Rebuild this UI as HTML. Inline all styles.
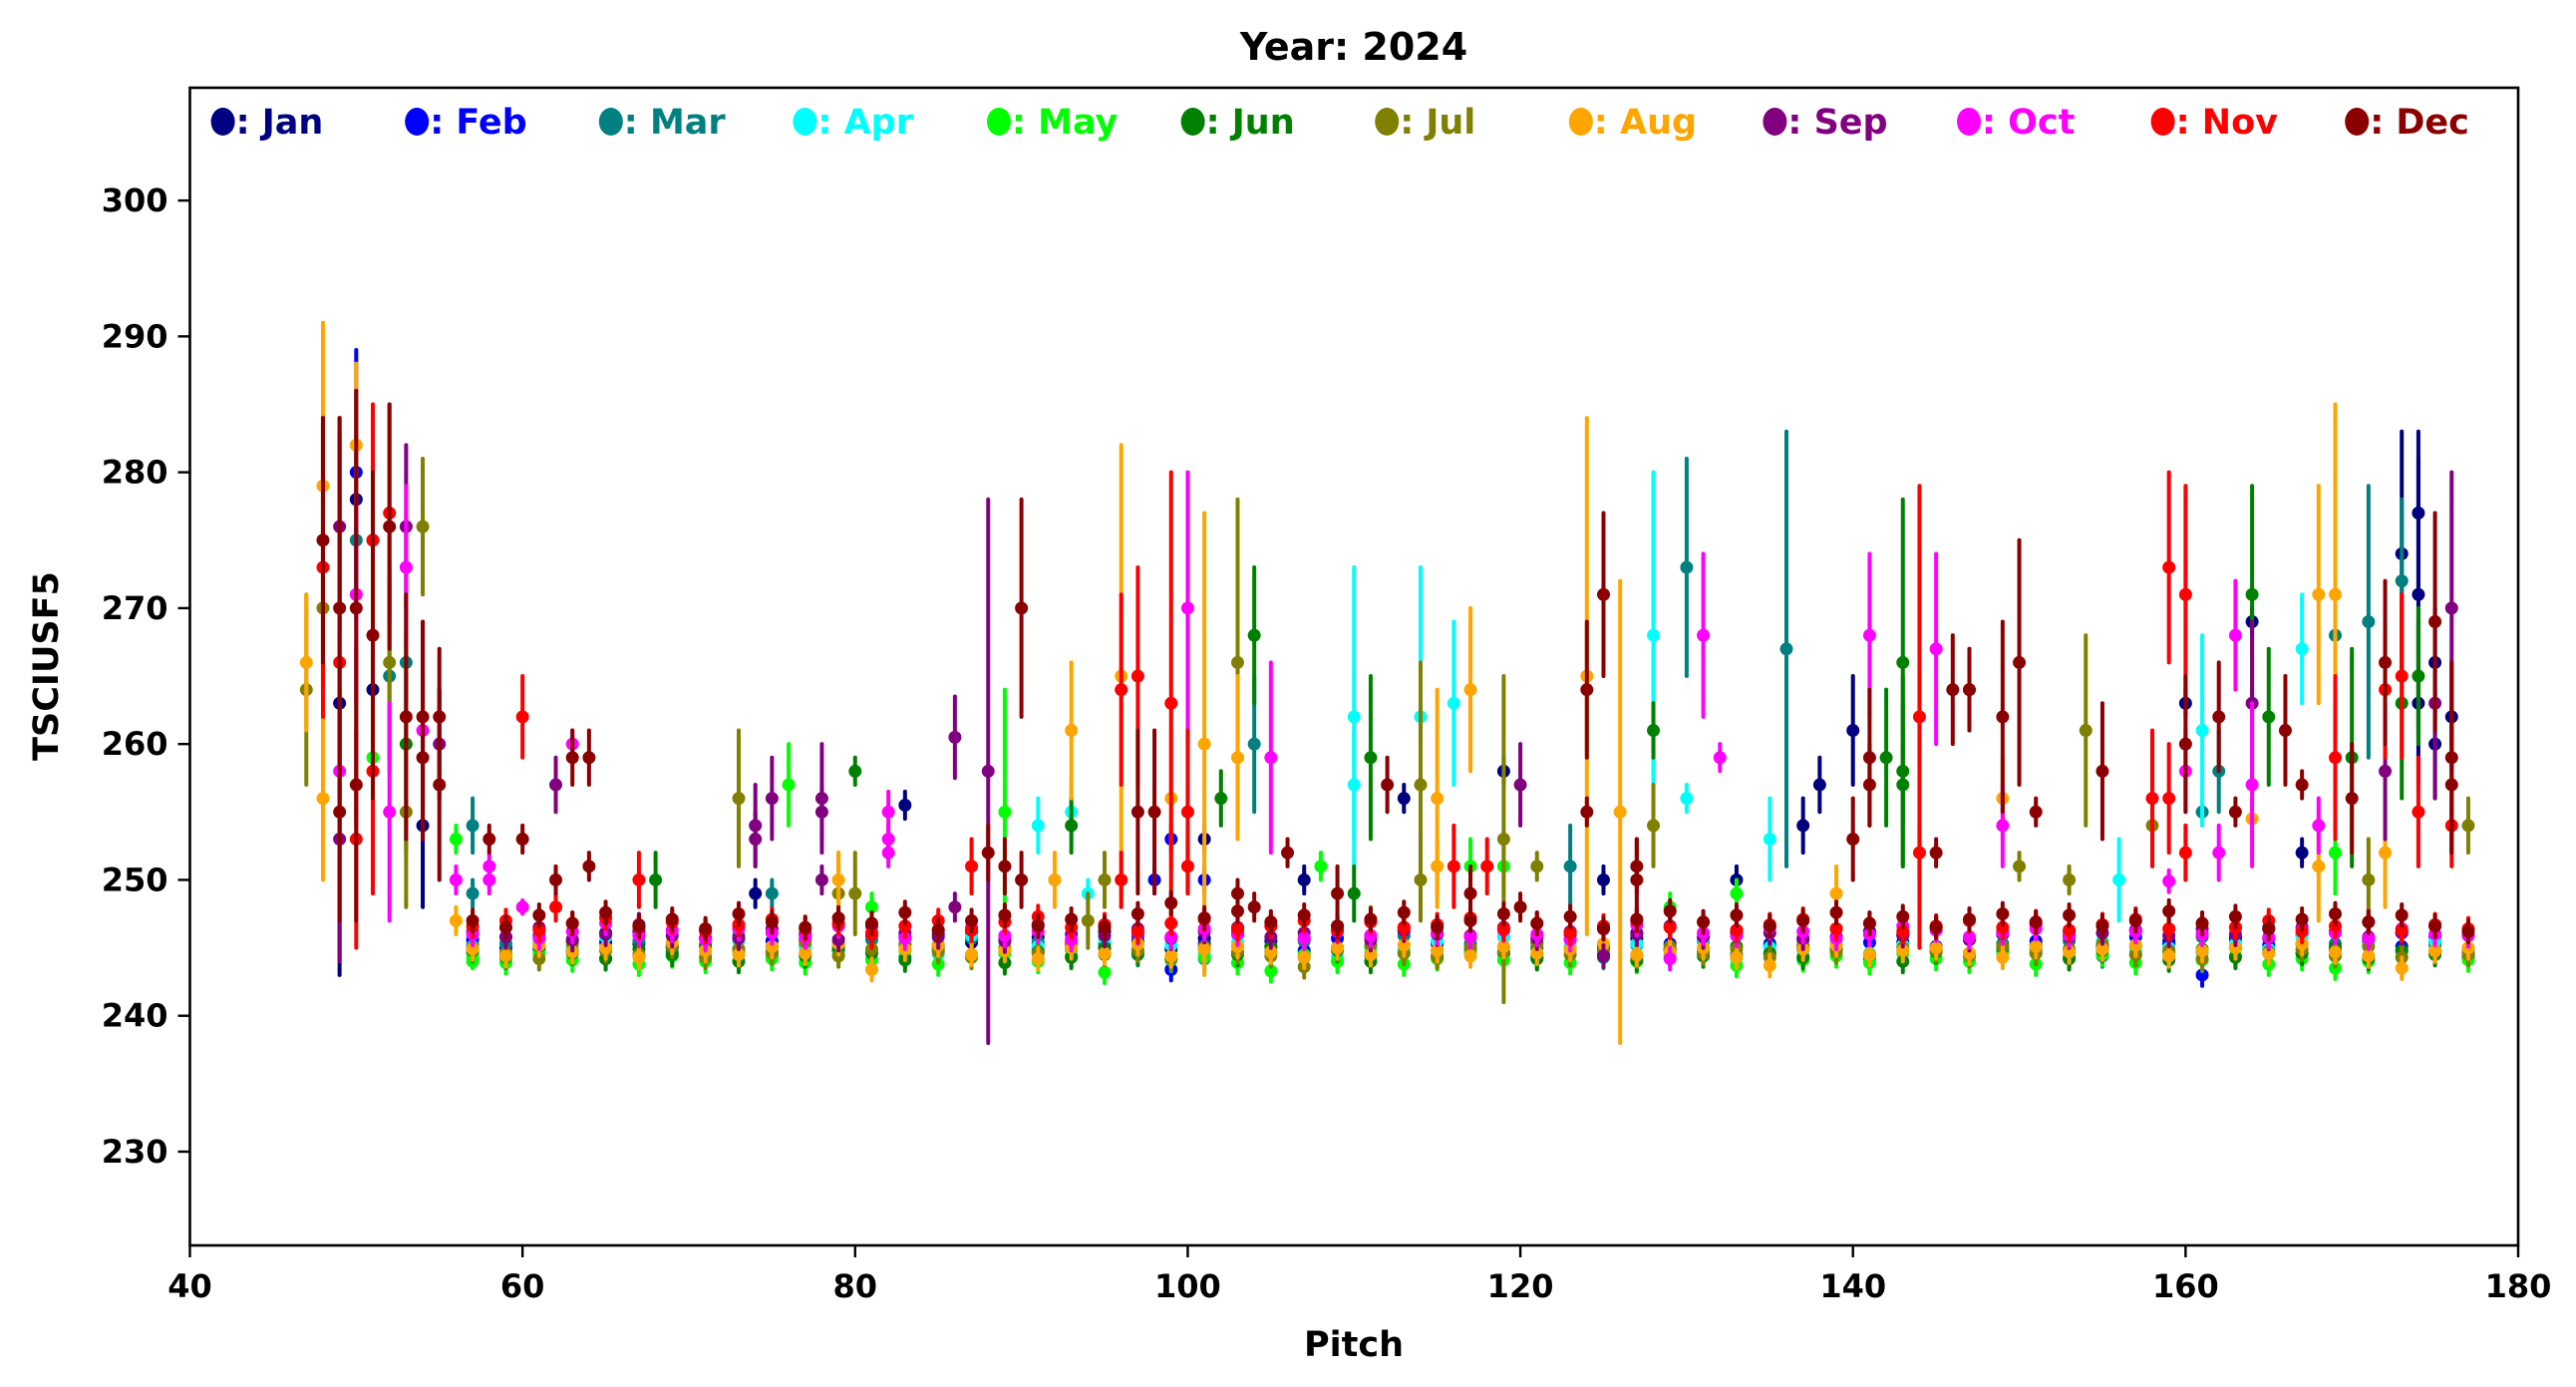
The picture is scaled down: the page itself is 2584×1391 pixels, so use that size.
<!DOCTYPE html>
<html><head><meta charset="utf-8"><title>Year: 2024</title>
<style>
html,body{margin:0;padding:0;background:#fff;}
svg{display:block;font-family:"DejaVu Sans","Liberation Sans",sans-serif;font-weight:bold;}
</style></head>
<body>
<svg id="chart" width="2584" height="1391" viewBox="0 0 2584 1391" xmlns="http://www.w3.org/2000/svg">
<rect x="0" y="0" width="2584" height="1391" fill="#fff"/>
<text x="1358" y="60" font-size="38" text-anchor="middle">Year: 2024</text>
<text x="1358" y="1360" font-size="35" text-anchor="middle">Pitch</text>
<text x="0" y="0" font-size="35" text-anchor="middle" transform="translate(58,668) rotate(-90)">TSCIUSF5</text>
<g id="plot"></g>
<g id="axes"></g>
<g id="legend"></g>
</svg>
<script>
const months = ["Jan","Feb","Mar","Apr","May","Jun","Jul","Aug","Sep","Oct","Nov","Dec"];
const monthColors = ["#000080","#0000ff","#008080","#00ffff","#00ff00","#008000","#808000","#ffa500","#800080","#ff00ff","#ff0000","#8b0000"];
const xTicks = [40,60,80,100,120,140,160,180];
const yTicks = [230,240,250,260,270,280,290,300];

// outlier points
const outPitch = [47,47,48,48,48,48,48,48,49,49,49,49,49,49,49,50,50,50,50,50,50,50,50,51,51,51,51,51,51,52,52,52,52,52,53,53,53,53,53,53,54,54,54,54,54,55,55,55,56,56,56,57,57,57,58,58,58,60,60,60,62,62,62,63,63,64,64,67,68,73,74,74,74,75,75,76,78,78,78,79,79,80,80,81,81,82,82,82,83,86,86,87,88,88,89,89,90,90,91,92,92,93,93,93,94,94,95,96,96,96,97,97,98,98,99,99,99,100,100,100,100,101,101,101,102,103,103,103,104,104,104,105,106,107,108,109,110,110,110,111,111,112,113,114,114,114,115,115,116,116,117,117,117,118,119,119,119,120,120,121,123,124,124,124,125,125,126,127,127,128,128,128,129,130,130,131,132,133,133,135,136,137,138,139,140,140,141,141,141,142,143,143,143,144,144,145,145,146,147,147,149,149,149,150,150,151,153,154,155,156,158,158,159,159,160,160,160,160,160,161,161,162,162,162,163,163,164,164,164,164,164,165,166,167,167,167,168,168,168,169,169,169,169,169,170,170,171,171,172,172,172,172,173,173,173,173,174,174,174,174,174,175,175,175,175,176,176,176,176,176,177];
const outMonth = [6,7,7,3,11,10,7,6,0,8,11,10,11,8,9,1,0,7,2,11,9,11,10,10,2,0,11,10,4,10,11,6,2,9,8,9,2,11,6,5,6,11,0,9,11,11,11,8,4,9,7,2,2,4,11,9,9,10,11,9,8,10,11,9,11,11,11,10,5,6,8,8,0,8,2,4,8,8,8,7,6,5,6,4,10,9,9,9,0,8,8,10,8,11,11,4,11,11,3,3,7,7,5,3,3,6,6,7,10,10,10,11,11,1,10,7,1,9,10,10,3,7,1,0,5,6,7,11,2,5,11,9,11,0,4,11,3,3,5,5,6,11,0,3,6,6,7,7,3,10,7,4,11,10,0,6,4,8,11,6,2,7,11,11,11,0,7,11,11,3,5,6,4,2,3,9,9,0,4,3,2,0,0,7,0,11,9,11,11,5,5,5,5,10,10,9,11,11,10,11,11,7,9,11,6,11,6,6,11,3,10,6,10,10,10,0,11,9,10,3,2,2,11,9,9,11,0,5,8,7,9,5,11,3,11,0,7,9,7,7,2,10,3,4,5,11,2,6,11,10,8,7,0,2,10,5,0,0,5,0,10,8,11,0,0,8,0,11,11,10,6];
const outValue = [264,266,279,275,275,273,256,270,263,276,270,266,255,253,258,280,278,282,275,270,271,257,253,275,275,264,268,258,259,277,276,266,265,255,276,273,266,262,255,260,276,262,254,261,259,262,257,260,253,250,247,254,249,244,253,251,250,262,253,248,257,248,250,260,259,259,251,250,250,256,254,253,249,256,249,257,256,255,250,250,249,258,249,248,246,255,253,252,255.5,260.5,248,251,258,252,251,255,270,250,254,250,250,261,254,255,249,247,250,265,264,250,265,255,255,250,263,256,253,270,255,251,255,260,250,253,256,266,259,249,260,268,248,259,252,250,251,249,262,257,249,259,247,257,256,262,257,250,256,251,263,251,264,251,249,251,258,253,251,257,248,251,251,265,264,255,271,250,255,251,250,268,261,254,248,273,256,268,259,250,249,253,267,254,257,249,261,253,268,259,257,259,266,258,257,262,252,267,252,264,264,264,262,256,254,266,251,255,250,261,258,250,256,254,273,256,271,263,260,258,252,261,255,258,262,252,268,255,269,271,263,254.5,257,262,261,267,257,252,271,254,251,271,268,259,252,252,259,256,269,250,266,264,258,252,274,272,265,263,277,271,265,263,255,263,269,266,260,270,262,257,259,254,254];
const outErr = [7,5,12,5,9,11,6,6,20,8,14,12,8,9,6,9,8,6,6,16,8,10,8,10,8,12,12,9,6,8,9,7,7,8,6,6,10,9,7,8,5,7,6,8,6,5,7,4,1,1,1,2,1,0.5,1,1,1,3,1,0.5,2,1,1,1,2,2,1,2,2,5,3,2,1,3,1,3,4,2,1,2,3,1,3,1,1,1.5,1,1,1,3,1,2,20,2,2,9,8,2,2,1,2,5,2,2,1,2,2,17,7,2,8,6,6,1,17,5,1,10,6,2,3,17,1,1,2,12,6,1,5,5,1,7,1,1,1,2,11,4,2,6,1,2,1,11,9,3,8,2,6,3,6,2,2,2,1,12,2,3,1,1,3,19,5,1,6,1,17,2,3,12,2,3,1,8,1,6,1,1,1,3,16,2,2,2,4,3,6,5,3,5,12,7,6,17,2,7,1,4,3,3,7,3,3,9,1,1,1,7,5,3,5,3,7,4,8,1,5,3,2,7,1,3,4,2,4,1,1,8,6,3,6,5,4,4,1,1,8,2,4,14,3,6,3,3,8,4,10,3,6,5,5,4,9,6,6,7,6,10,5,6,4,7,8,4,4,10,4,5,7,3,2];

// baseline cluster: pitches 57..177 step 2, one value per month
const basePitch = [57,59,61,63,65,67,69,71,73,75,77,79,81,83,85,87,89,91,93,95,97,99,101,103,105,107,109,111,113,115,117,119,121,123,125,127,129,131,133,135,137,139,141,143,145,147,149,151,153,155,157,159,161,163,165,167,169,171,173,175,177];
const baseJan = [245.2,245.8,244.9,245.5,246.1,245.3,245.0,245.7,246.4,245.1,245.6,244.8,245.9,245.3,246.0,245.4,244.7,245.8,245.2,246.2,245.5,244.9,245.7,246.3,245.1,245.6,245.0,245.9,246.5,245.3,245.8,244.6,245.4,246.0,245.2,245.7,244.9,245.5,246.1,245.3,245.0,245.8,246.2,245.4,244.8,245.6,246.0,245.2,245.9,245.1,246.3,245.5,244.7,245.8,246.4,245.3,245.0,245.7,246.1,245.4,244.3];
const baseFeb = [245.6,245.0,245.9,244.8,245.4,246.2,245.1,245.7,244.9,245.5,246.0,245.3,244.7,245.8,245.2,246.1,245.6,244.9,245.4,245.0,245.9,243.4,245.3,246.0,245.5,244.8,245.7,245.1,246.2,245.4,244.9,245.8,244.3,245.6,245.0,246.1,245.3,244.7,245.9,245.2,245.6,244.9,245.4,246.0,245.1,245.7,244.8,245.5,246.2,245.0,245.8,245.3,243.0,245.6,245.2,246.0,244.9,245.5,245.1,245.8,244.6];
const baseMar = [244.6,245.3,245.8,244.9,244.2,245.5,244.7,245.1,245.9,244.5,245.2,244.8,245.6,244.3,245.0,245.7,244.6,245.4,244.9,245.3,244.5,245.8,244.2,245.1,244.7,245.5,245.0,244.4,245.9,244.8,245.3,244.6,245.0,245.6,244.3,245.2,244.9,245.7,244.5,245.1,244.8,245.4,244.2,245.9,245.0,244.6,245.3,244.9,245.5,244.4,245.1,244.7,245.8,245.0,246.5,244.6,245.3,245.7,244.8,245.2,244.5];
const baseApr = [245.1,244.6,245.4,244.9,245.8,244.4,245.2,244.7,245.5,244.3,245.0,245.6,244.8,245.3,244.5,245.9,244.7,245.1,244.4,245.6,244.9,245.2,244.6,245.4,244.8,245.7,244.3,245.0,244.9,245.5,244.6,245.8,244.4,245.1,244.7,245.3,244.5,245.6,244.2,245.0,244.8,245.4,244.6,245.2,244.9,245.7,244.5,245.1,244.3,245.5,244.8,245.0,244.6,245.3,244.9,245.8,244.4,245.2,244.7,245.5,245.9];
const baseMay = [244.3,243.9,244.6,244.1,244.8,243.8,244.4,244.0,244.7,244.2,243.9,244.5,244.1,244.8,243.8,244.3,244.6,244.0,244.4,243.2,244.7,244.1,244.3,243.9,243.3,244.5,244.0,244.6,243.8,244.2,244.7,244.1,244.4,243.9,244.6,244.0,244.3,244.8,243.7,244.5,244.1,244.4,243.9,244.6,244.2,244.0,244.7,243.8,244.3,244.5,243.9,244.6,244.1,244.4,243.8,244.2,243.5,244.0,244.3,244.6,244.1];
const baseJun = [244.8,244.3,245.1,244.6,244.2,244.9,244.5,245.2,244.0,244.7,244.4,245.0,244.6,244.1,244.8,244.5,243.9,244.7,244.3,245.0,244.6,244.2,244.9,244.5,245.1,244.3,244.8,244.0,244.6,244.4,245.0,244.7,244.2,244.9,244.5,244.1,244.8,244.4,245.1,244.6,244.3,244.9,244.5,244.0,244.7,244.4,245.0,244.6,244.2,244.8,244.5,244.1,244.9,244.3,244.7,244.6,245.0,244.2,244.8,244.5,244.9];
const baseJul = [245.0,244.6,244.2,245.3,244.8,244.5,245.1,244.3,244.9,244.6,245.4,244.4,244.9,245.2,244.7,244.3,245.0,244.6,245.3,244.5,244.8,244.2,245.1,244.7,244.4,243.6,244.9,245.2,244.6,244.3,245.0,244.7,245.3,244.5,244.8,244.4,245.1,244.6,244.9,244.3,245.2,244.7,244.5,245.0,244.8,244.4,245.1,244.6,244.9,245.3,244.5,244.8,244.2,245.0,244.6,244.9,244.4,245.1,244.3,244.7,244.5];
const baseAug = [244.9,244.4,245.2,244.7,245.0,244.3,245.4,244.8,244.5,245.1,244.6,245.3,243.4,244.9,245.2,244.5,244.8,244.2,245.0,244.6,245.3,244.4,244.9,245.1,244.7,244.3,245.0,244.5,245.2,244.8,244.4,245.1,244.6,244.9,245.3,244.5,244.7,245.0,244.3,243.7,244.9,245.2,244.5,244.8,245.0,244.6,244.3,245.1,244.7,244.9,245.2,244.4,244.8,245.0,244.6,245.3,244.7,244.4,243.5,244.8,245.0];
const baseSep = [246.2,245.8,246.5,245.6,246.0,246.7,245.9,246.3,245.7,246.4,246.0,245.6,246.6,246.1,245.8,246.3,245.5,246.7,246.0,245.9,246.4,245.7,246.2,246.5,245.8,246.1,246.6,245.6,246.3,246.0,245.9,246.5,245.7,246.2,244.4,246.0,246.6,245.8,246.3,246.1,245.7,246.4,246.0,245.9,246.5,245.6,246.2,246.7,245.8,246.1,246.3,245.9,246.4,246.0,245.7,246.5,246.2,245.8,246.1,246.6,245.9];
const baseOct = [246.0,246.5,245.7,246.2,246.8,245.9,246.3,245.6,246.4,246.1,245.8,246.6,246.0,245.7,246.3,246.5,245.9,246.2,245.6,246.7,246.1,245.8,246.4,246.0,246.6,245.7,246.2,245.9,246.5,246.1,245.8,246.3,246.0,245.6,246.4,246.7,244.2,246.1,245.9,246.5,246.2,245.7,246.0,246.6,246.3,245.8,246.1,246.4,245.9,246.7,246.2,249.9,246.0,246.5,245.8,246.3,246.1,245.7,246.4,246.0,245.9];
const baseNov = [246.6,247.0,246.3,246.8,247.2,246.5,246.9,246.2,246.7,247.1,246.4,246.8,246.1,246.6,247.0,246.3,246.9,247.3,246.5,246.7,246.2,246.8,247.1,246.4,246.6,247.0,246.3,246.9,246.5,246.7,247.2,246.4,246.8,246.1,246.6,247.0,246.5,246.9,246.3,246.7,247.1,246.4,246.8,246.2,246.6,247.0,246.5,246.9,246.3,246.7,247.1,246.4,246.8,246.5,247.0,246.2,246.6,246.9,246.3,246.7,246.4];
const baseDec = [247.0,246.5,247.4,246.8,247.6,246.6,247.1,246.4,247.5,246.9,246.5,247.2,246.8,247.6,246.3,247.0,247.4,246.6,247.1,246.5,247.5,248.3,247.2,247.7,246.9,247.4,246.6,247.1,247.6,246.5,247.0,247.5,246.8,247.3,246.4,247.1,247.7,246.9,247.4,246.6,247.0,247.6,246.8,247.3,246.5,247.1,247.5,246.9,247.4,246.6,247.0,247.7,246.8,247.3,246.4,247.1,247.5,246.9,247.4,246.6,246.2];
const baseByMonth = [baseJan,baseFeb,baseMar,baseApr,baseMay,baseJun,baseJul,baseAug,baseSep,baseOct,baseNov,baseDec];

const L=190.5, R=2526, T=88, B=1249;
const X0=40, X1=180, Y0=223.1, Y1=308.3;
function xs(v){return L+(v-X0)*(R-L)/(X1-X0);}
function ys(v){return B-(v-Y0)*(B-T)/(Y1-Y0);}
const NS="http://www.w3.org/2000/svg";
function mk(tag,attrs,parent){const e=document.createElementNS(NS,tag);for(const k in attrs)e.setAttribute(k,attrs[k]);parent.appendChild(e);return e;}

const plot=document.getElementById('plot');
function drawPoint(p,m,v,e){
  const g=mk('g',{},plot);
  
  
  const c=monthColors[m];
  const x=xs(p);
  if(e>0){
    const ln=mk('line',{x1:x,x2:x,y1:ys(v-e),y2:ys(v+e),stroke:c,'stroke-width':4,'stroke-linecap':'round'},g);
    
    
  }
  const dot=mk('circle',{cx:x,cy:ys(v),r:6.5,fill:c},g);
  
  
}
for(let m=0;m<12;m++){
  const arr=baseByMonth[m];
  for(let i=0;i<basePitch.length;i++) drawPoint(basePitch[i],m,arr[i],0.8);
  for(let i=0;i<outPitch.length;i++) if(outMonth[i]===m) drawPoint(outPitch[i],m,outValue[i],outErr[i]);
}

const axes=document.getElementById('axes');
const frame=mk('rect',{x:L,y:T,width:R-L,height:B-T,fill:'none',stroke:'#000','stroke-width':2.6},axes);


xTicks.forEach(t=>{
  const x=xs(t);
  const tk=mk('line',{x1:x,x2:x,y1:B,y2:B+12,stroke:'#000','stroke-width':2.4},axes);
  
  
  const lb=mk('text',{x:x,y:B+52,'font-size':32,'text-anchor':'middle'},axes);
  lb.textContent=t;
  
  
});
yTicks.forEach(t=>{
  const y=ys(t);
  const tk=mk('line',{x1:L-12,x2:L,y1:y,y2:y,stroke:'#000','stroke-width':2.4},axes);
  
  
  const lb=mk('text',{x:L-22,y:y+11,'font-size':32,'text-anchor':'end'},axes);
  lb.textContent=t;
  
  
});

const legend=document.getElementById('legend');
months.forEach((mn,i)=>{
  const x=223.6+i*194.6;
  const g=mk('g',{},legend);
  
  
  mk('ellipse',{cx:x,cy:122,rx:12,ry:14,fill:monthColors[i]},g);
  const t=mk('text',{x:x+13,y:134,'font-size':35,fill:monthColors[i]},g);
  t.textContent=': '+mn;
});
</script>
</body></html>
